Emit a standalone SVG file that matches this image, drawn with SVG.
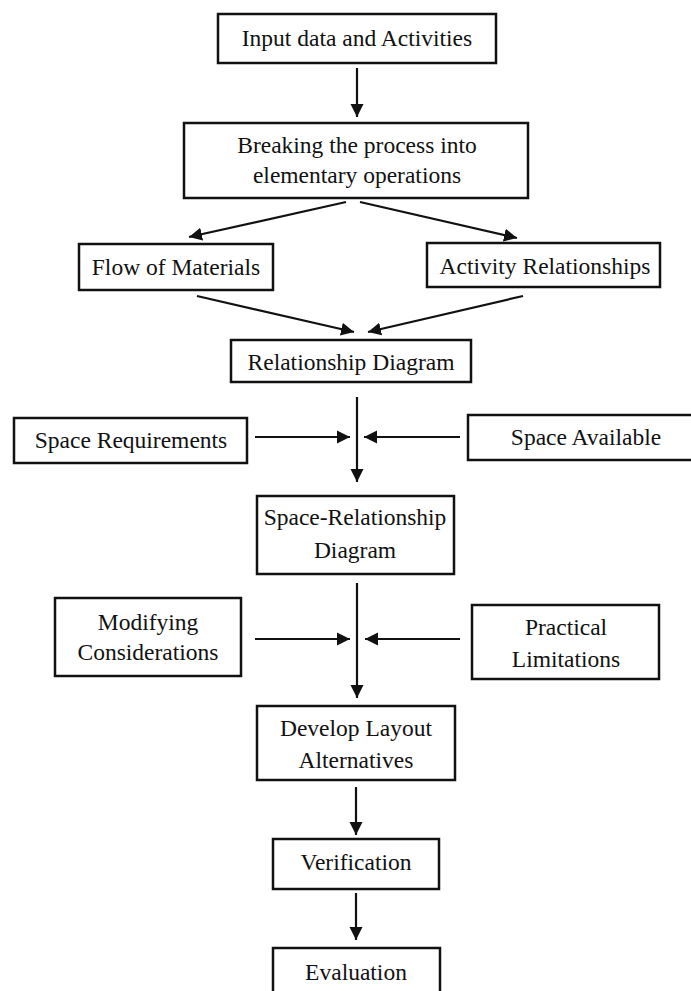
<svg xmlns="http://www.w3.org/2000/svg" width="691" height="991" viewBox="0 0 691 991">
  <style>
    .box { fill: #ffffff; stroke: #111111; stroke-width: 2.5; }
    .lbl { font-family: "Liberation Serif", "DejaVu Serif", serif; font-size: 23.5px; fill: #111111; text-anchor: middle; }
    .edge { stroke: #111111; stroke-width: 2.2; fill: none; marker-end: url(#head); }
  </style>
  <defs>
    <marker id="head" markerUnits="userSpaceOnUse" markerWidth="14" markerHeight="14" refX="13" refY="7" orient="auto">
      <path d="M0,0.5 L13,7 L0,13.5 Z" fill="#111111"/>
    </marker>
  </defs>
  <rect width="691" height="991" fill="#ffffff"/>

  <!-- process steps -->
  <g id="input">
    <rect class="box" x="218" y="14" width="278" height="49"/>
    <text class="lbl" x="357" y="46">Input data and Activities</text>
  </g>
  <g id="breaking">
    <rect class="box" x="184" y="123" width="344" height="75"/>
    <text class="lbl" x="357" y="153">Breaking the process into</text>
    <text class="lbl" x="357" y="183">elementary operations</text>
  </g>
  <g id="flow">
    <rect class="box" x="79" y="244" width="194" height="46"/>
    <text class="lbl" x="176" y="275">Flow of Materials</text>
  </g>
  <g id="activity">
    <rect class="box" x="427" y="243" width="233" height="44"/>
    <text class="lbl" x="545" y="274">Activity Relationships</text>
  </g>
  <g id="relationship">
    <rect class="box" x="231" y="340" width="240" height="42"/>
    <text class="lbl" x="351" y="370">Relationship Diagram</text>
  </g>
  <g id="space-req">
    <rect class="box" x="14" y="418" width="233" height="45"/>
    <text class="lbl" x="131" y="448">Space Requirements</text>
  </g>
  <g id="space-avail">
    <rect class="box" x="468" y="415" width="226" height="45"/>
    <text class="lbl" x="586" y="445">Space Available</text>
  </g>
  <g id="space-rel">
    <rect class="box" x="257" y="496" width="197" height="78"/>
    <text class="lbl" x="355" y="525">Space-Relationship</text>
    <text class="lbl" x="355" y="558">Diagram</text>
  </g>
  <g id="modifying">
    <rect class="box" x="55" y="598" width="186" height="78"/>
    <text class="lbl" x="148" y="630">Modifying</text>
    <text class="lbl" x="148" y="660">Considerations</text>
  </g>
  <g id="practical">
    <rect class="box" x="472" y="605" width="187" height="74"/>
    <text class="lbl" x="566" y="635">Practical</text>
    <text class="lbl" x="566" y="667">Limitations</text>
  </g>
  <g id="develop">
    <rect class="box" x="257" y="706" width="198" height="74"/>
    <text class="lbl" x="356" y="736">Develop Layout</text>
    <text class="lbl" x="356" y="768">Alternatives</text>
  </g>
  <g id="verification">
    <rect class="box" x="273" y="839" width="166" height="50"/>
    <text class="lbl" x="356" y="870">Verification</text>
  </g>
  <g id="evaluation">
    <rect class="box" x="273" y="948" width="167" height="50"/>
    <text class="lbl" x="356" y="980">Evaluation</text>
  </g>

  <!-- connectors -->
  <g id="connectors">
    <line class="edge" x1="357" y1="68" x2="357" y2="117"/>
    <line class="edge" x1="346" y1="202" x2="189" y2="237"/>
    <line class="edge" x1="360" y1="202" x2="517" y2="238"/>
    <line class="edge" x1="197" y1="296" x2="354" y2="332"/>
    <line class="edge" x1="523" y1="296" x2="368" y2="332"/>
    <line class="edge" x1="357" y1="397" x2="357" y2="482"/>
    <line class="edge" x1="255" y1="437" x2="350" y2="437"/>
    <line class="edge" x1="460" y1="437" x2="364" y2="437"/>
    <line class="edge" x1="357" y1="583" x2="357" y2="698"/>
    <line class="edge" x1="255" y1="639" x2="350" y2="639"/>
    <line class="edge" x1="460" y1="639" x2="365" y2="639"/>
    <line class="edge" x1="356" y1="787" x2="356" y2="835"/>
    <line class="edge" x1="356" y1="893" x2="356" y2="940"/>
  </g>
</svg>
